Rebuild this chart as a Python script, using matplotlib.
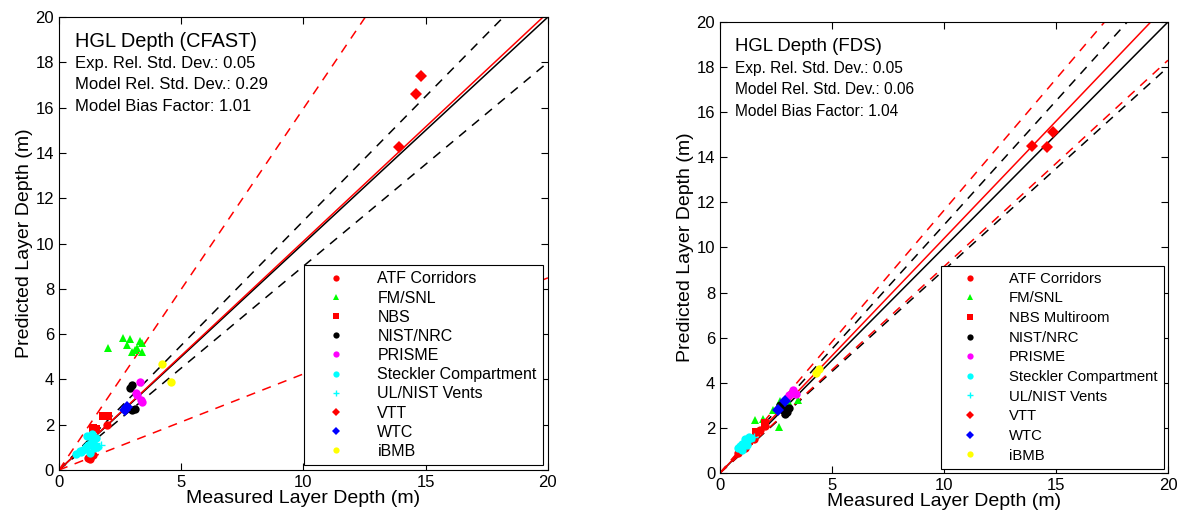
import matplotlib

matplotlib.use("Agg")
import matplotlib.pyplot as plt
import numpy as np

plt.rcParams["font.family"] = ["Liberation Sans", "DejaVu Sans"]

# ---- data: (measured, predicted) in m ----
SERIES = ["ATF Corridors", "FM/SNL", "NBS", "NIST/NRC", "PRISME",
          "Steckler Compartment", "UL/NIST Vents", "VTT", "WTC", "iBMB"]
COLORS = ["red", "lime", "red", "black", "magenta", "cyan", "cyan", "red", "blue", "yellow"]
MARKERS = ["o", "^", "s", "o", "o", "o", "+", "D", "D", "o"]

cfast_x = {
    "ATF Corridors": [1.2, 1.3, 1.4, 1.25, 1.95],
    "FM/SNL": [2.0, 2.6, 2.9, 3.3, 3.4, 3.0, 3.2, 2.8, 3.4, 3.1],
    "NBS": [1.8, 2.0, 1.4, 1.5],
    "NIST/NRC": [2.9, 3.0, 3.0, 3.1],
    "PRISME": [3.3, 3.2, 3.4, 3.15, 3.35],
    "Steckler Compartment": [0.7, 0.85, 1.0, 1.1, 1.2, 1.3, 1.4, 1.5, 0.9, 1.15, 1.35, 1.55, 1.25, 1.45],
    "UL/NIST Vents": [1.6, 1.5, 1.7, 1.4],
    "VTT": [13.9, 14.6, 14.8],
    "WTC": [2.7, 2.8],
    "iBMB": [4.2, 4.6],
}
cfast_y = {
    "ATF Corridors": [0.55, 0.6, 0.65, 0.5, 2.0],
    "FM/SNL": [5.4, 5.85, 5.8, 5.7, 5.2, 5.2, 5.4, 5.5, 5.6, 5.3],
    "NBS": [2.4, 2.4, 1.85, 1.8],
    "NIST/NRC": [3.6, 3.75, 2.65, 2.7],
    "PRISME": [3.9, 3.3, 3.0, 3.4, 3.1],
    "Steckler Compartment": [0.7, 0.85, 0.9, 1.0, 1.1, 1.2, 1.3, 1.4, 0.8, 1.5, 1.6, 1.0, 0.75, 0.95],
    "UL/NIST Vents": [1.0, 1.2, 1.1, 1.35],
    "VTT": [14.25, 16.6, 17.4],
    "WTC": [2.65, 2.8],
    "iBMB": [4.7, 3.9],
}

fds_x = {
    "ATF Corridors": [0.8, 1.1, 1.5, 1.8, 2.0],
    "FM/SNL": [1.55, 1.9, 2.35, 2.65, 3.5, 3.05, 2.7],
    "NBS": [1.6, 2.0, 1.3],
    "NIST/NRC": [2.8, 3.0, 2.7, 3.1, 2.9],
    "PRISME": [3.1, 3.25, 3.4],
    "Steckler Compartment": [0.8, 0.9, 1.0, 1.1, 1.2, 1.3, 1.4, 1.0, 1.2],
    "UL/NIST Vents": [1.5, 1.3],
    "VTT": [13.95, 14.6, 14.85],
    "WTC": [2.9, 2.6],
    "iBMB": [4.3, 4.4],
}
fds_y = {
    "ATF Corridors": [0.9, 1.1, 1.5, 1.9, 2.1],
    "FM/SNL": [2.35, 2.4, 2.8, 2.05, 3.25, 3.2, 3.2],
    "NBS": [1.8, 2.2, 1.4],
    "NIST/NRC": [2.8, 2.7, 3.0, 2.9, 2.6],
    "PRISME": [3.45, 3.7, 3.5],
    "Steckler Compartment": [1.1, 1.2, 1.3, 1.5, 1.4, 1.6, 1.55, 1.0, 1.25],
    "UL/NIST Vents": [1.6, 1.5],
    "VTT": [14.5, 14.45, 15.1],
    "WTC": [3.2, 2.8],
    "iBMB": [4.45, 4.6],
}

CASES = [
    {"title": "HGL Depth (CFAST)", "x": cfast_x, "y": cfast_y, "names": SERIES,
     "exp_sd": 0.05, "model_sd": 0.29, "bias": 1.01},
    {"title": "HGL Depth (FDS)", "x": fds_x, "y": fds_y,
     "names": [s if s != "NBS" else "NBS Multiroom" for s in SERIES],
     "exp_sd": 0.05, "model_sd": 0.06, "bias": 1.04},
]

AX_RECTS = [[0.0497, 0.0856, 0.4123, 0.8813], [0.6071, 0.0798, 0.3777, 0.8774]]
SCALES = [1.0, 0.93]
LEG_SPACING = [0.26, 0.38]


def draw_panel(ax, case, s, spacing):
    lim = np.array([0, 20])
    e, m, b = case["exp_sd"], case["model_sd"], case["bias"]
    ax.plot(lim, lim, "k-", lw=1.1)
    ax.plot(lim, lim * (1 + 2 * e), "k--", lw=1.1, dashes=(6, 5))
    ax.plot(lim, lim * (1 - 2 * e), "k--", lw=1.1, dashes=(6, 5))
    ax.plot(lim, lim * b, "r-", lw=1.1)
    ax.plot(lim, lim * b * (1 + 2 * m), "r--", lw=1.1, dashes=(6, 5))
    ax.plot(lim, lim * b * (1 - 2 * m), "r--", lw=1.1, dashes=(6, 5))

    handles = []
    for key, name, c, mk in zip(SERIES, case["names"], COLORS, MARKERS):
        h, = ax.plot(case["x"][key], case["y"][key], ls="none", marker=mk,
                     color=c, ms=6, mew=1.0 if mk == "+" else 0, label=name)
        handles.append(h)

    ax.set_xlim(0, 20)
    ax.set_ylim(0, 20)
    ax.set_xticks([0, 5, 10, 15, 20])
    ax.set_yticks(range(0, 21, 2))
    ax.tick_params(direction="in", labelsize=12, top=True, right=True,
                   length=5, width=0.8)
    ax.set_xlabel("Measured Layer Depth (m)", fontsize=14, labelpad=0)
    ax.set_ylabel("Predicted Layer Depth (m)", fontsize=14, labelpad=2)

    ax.text(0.65, 18.9, case["title"], fontsize=14.4 * s, va="center")
    ax.text(0.65, 17.95, f"Exp. Rel. Std. Dev.: {e:.2f}", fontsize=12 * s, va="center")
    ax.text(0.65, 17.0, f"Model Rel. Std. Dev.: {m:.2f}", fontsize=12 * s, va="center")
    ax.text(0.65, 16.05, f"Model Bias Factor: {b:.2f}", fontsize=12 * s, va="center")

    leg = ax.legend(handles=handles, loc="lower right", fontsize=11.5 * s,
                    frameon=True, fancybox=False, edgecolor="black",
                    framealpha=1, borderaxespad=0.3, handletextpad=1.0,
                    labelspacing=spacing, markerscale=0.75, handlelength=3.2,
                    borderpad=0.4)
    leg.get_frame().set_linewidth(0.8)


fig = plt.figure(figsize=(11.86, 5.14), dpi=100)
for rect, case, s, sp in zip(AX_RECTS, CASES, SCALES, LEG_SPACING):
    ax = fig.add_axes(rect)
    draw_panel(ax, case, s, sp)

fig.savefig("out.png", dpi=100)
